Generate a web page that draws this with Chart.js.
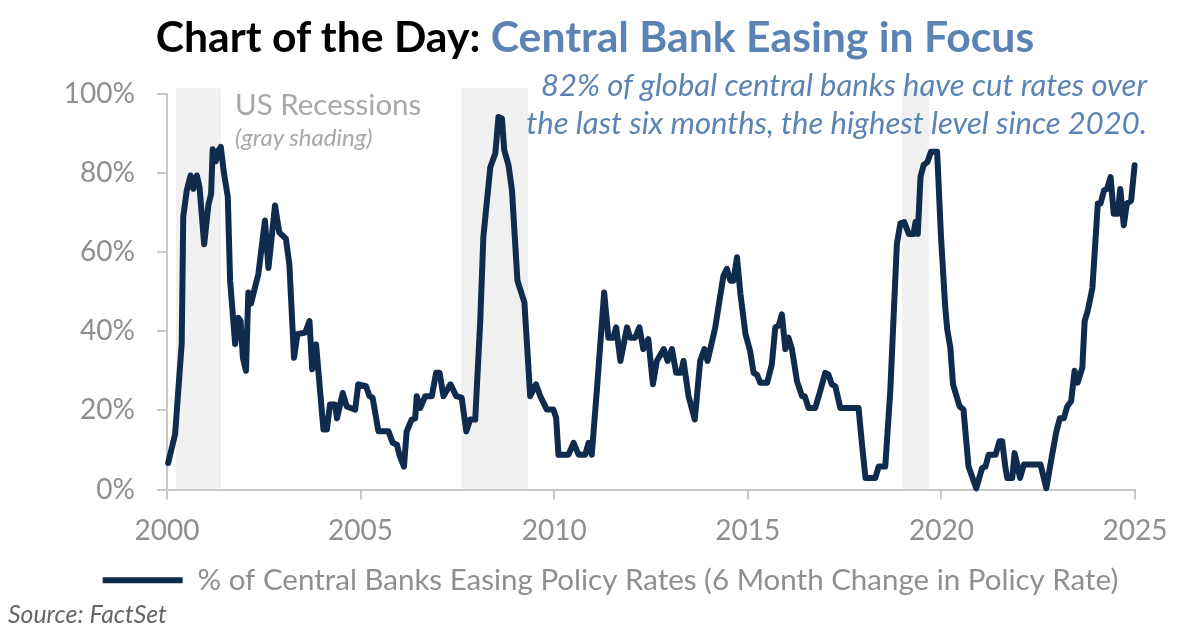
<!DOCTYPE html>
<html>
<head>
<meta charset="utf-8">
<script src="https://cdn.jsdelivr.net/npm/chart.js@4.4.1/dist/chart.umd.min.js"></script>
<style>
  body { margin: 0; background: #fff; }
  #wrap { position: relative; width: 1199px; height: 639px; overflow: hidden; font-family: Lato, "Noto Sans", sans-serif; }
  #myChart { position: absolute; left: 0; top: 0; }
  .txt { position: absolute; white-space: nowrap; }
  #title { left: 0; width: 1190px; top: 10px; text-align: center; font-weight: bold; font-size: 42.7px; color: #000; }
  #title span { color: #5b84b4; }
  #rec1 { left: 235px; top: 86px; font-size: 29.5px; color: #a8a8a8; }
  #rec2 { left: 235px; top: 122px; font-size: 24px; font-style: italic; color: #a8a8a8; }
  #note { right: 52px; top: 65px; text-align: right; font-size: 31px; font-style: italic; color: #5b84b4; line-height: 38px; }
  #source { left: 8px; top: 599px; font-size: 24.8px; font-style: italic; color: #666; }
</style>
</head>
<body>
<div id="wrap">
  <canvas id="myChart" width="1199" height="639"></canvas>
  <div class="txt" id="title">Chart of the Day: <span>Central Bank Easing in Focus</span></div>
  <div class="txt" id="rec1">US Recessions</div>
  <div class="txt" id="rec2">(gray shading)</div>
  <div class="txt" id="note">82% of global central banks have cut rates over<br>the last six months, the highest level since 2020.</div>
  <div class="txt" id="source">Source: FactSet</div>
</div>
<script>
// Date (ani zecimali) si procentul bancilor centrale care relaxeaza politica
var dates = [
  2000.03, 2000.21, 2000.38, 2000.42, 2000.51, 2000.61, 2000.68, 2000.77, 2000.84, 2000.96,
  2001.07, 2001.14, 2001.18, 2001.26, 2001.33, 2001.39, 2001.47, 2001.57, 2001.63, 2001.76,
  2001.84, 2001.90, 2001.96, 2002.04, 2002.10, 2002.17, 2002.27, 2002.36, 2002.53, 2002.62,
  2002.79, 2002.90, 2003.07, 2003.16, 2003.28, 2003.37, 2003.57, 2003.68, 2003.75, 2003.85,
  2004.04, 2004.13, 2004.21, 2004.34, 2004.39, 2004.54, 2004.64, 2004.86, 2004.94, 2005.14,
  2005.23, 2005.31, 2005.46, 2005.72, 2005.83, 2005.94, 2006.00, 2006.12, 2006.19, 2006.32,
  2006.41, 2006.45, 2006.54, 2006.67, 2006.84, 2006.95, 2007.04, 2007.14, 2007.32, 2007.47,
  2007.61, 2007.73, 2007.83, 2007.96, 2008.09, 2008.17, 2008.35, 2008.48, 2008.56, 2008.65,
  2008.71, 2008.82, 2008.91, 2009.05, 2009.23, 2009.38, 2009.53, 2009.64, 2009.81, 2009.98,
  2010.05, 2010.11, 2010.37, 2010.50, 2010.63, 2010.80, 2010.89, 2010.97, 2011.10, 2011.29,
  2011.40, 2011.53, 2011.60, 2011.71, 2011.88, 2011.96, 2012.09, 2012.20, 2012.30, 2012.43,
  2012.55, 2012.65, 2012.83, 2012.93, 2013.04, 2013.15, 2013.27, 2013.34, 2013.47, 2013.63,
  2013.77, 2013.88, 2013.96, 2014.16, 2014.24, 2014.37, 2014.46, 2014.55, 2014.63, 2014.72,
  2014.81, 2014.94, 2015.06, 2015.15, 2015.24, 2015.32, 2015.50, 2015.62, 2015.71, 2015.80,
  2015.88, 2015.97, 2016.05, 2016.14, 2016.27, 2016.40, 2016.47, 2016.57, 2016.74, 2016.87,
  2017.00, 2017.08, 2017.17, 2017.26, 2017.39, 2017.86, 2017.95, 2018.04, 2018.29, 2018.38,
  2018.55, 2018.68, 2018.85, 2018.94, 2019.04, 2019.16, 2019.28, 2019.33, 2019.39, 2019.46,
  2019.54, 2019.64, 2019.73, 2019.89, 2019.99, 2020.10, 2020.15, 2020.23, 2020.30, 2020.39,
  2020.47, 2020.57, 2020.70, 2020.90, 2021.05, 2021.14, 2021.22, 2021.40, 2021.50, 2021.57,
  2021.65, 2021.70, 2021.83, 2021.89, 2021.96, 2022.03, 2022.13, 2022.56, 2022.71, 2022.86,
  2022.97, 2023.06, 2023.16, 2023.25, 2023.35, 2023.44, 2023.52, 2023.64, 2023.70, 2023.78,
  2023.90, 2024.04, 2024.11, 2024.20, 2024.28, 2024.37, 2024.45, 2024.55, 2024.62, 2024.71,
  2024.79, 2024.90, 2024.99
];
var easing = [
  6.7, 14, 37, 69, 75.6, 79.4, 76, 79.4, 76.5, 62,
  72, 74.8, 86, 83, 85.8, 86.6, 80, 74, 52.8, 36.8,
  43.4, 42.6, 33.3, 30, 49.8, 47, 51, 54.5, 68, 56,
  71.8, 65, 63.4, 57, 33.3, 39.3, 39.7, 42.6, 30.4, 36.7,
  15.2, 15.2, 21.5, 21.5, 18, 24.4, 21, 20.2, 26.6, 26.1,
  23.6, 23.2, 14.7, 14.7, 11.8, 11.3, 8.8, 5.8, 14.7, 17.7,
  18, 23.6, 20.6, 23.6, 23.6, 29.5, 29.5, 23.6, 26.6, 23.6,
  23.2, 14.7, 17.7, 17.7, 42.6, 63.8, 81.5, 85, 94.2, 93.8,
  85.8, 82, 75.6, 52.8, 47.3, 23.6, 26.6, 23.6, 20.2, 20.2,
  18.1, 8.8, 8.8, 11.8, 8.8, 8.8, 11.8, 8.8, 24.9, 49.8,
  38.4, 38.4, 41, 32.5, 41, 38.4, 38.4, 41, 35.5, 38,
  26.6, 32.5, 35.5, 32.5, 35.5, 29.5, 29.5, 32.5, 23.6, 17.7,
  32.5, 35.5, 32.5, 41, 46, 54, 55.8, 52.8, 52.8, 58.7,
  49.4, 39.3, 35, 29.5, 29, 27, 27, 31.6, 41, 41.5,
  44.3, 35.5, 38.4, 35.5, 27.4, 23.6, 23.6, 20.6, 20.6, 24.9,
  29.5, 29.1, 26.6, 26.1, 20.6, 20.6, 11.3, 2.9, 2.9, 5.8,
  5.8, 24.9, 62.1, 67.3, 67.6, 64.6, 64.6, 67.6, 64.6, 79,
  82, 82.8, 85.4, 85.4, 63.8, 46, 40.5, 35.9, 26.6, 23.6,
  21, 20.2, 5.8, 0.3, 5.4, 5.8, 8.8, 8.8, 12.2, 12.2,
  5.8, 2.9, 2.9, 9.2, 6.3, 2.9, 6.3, 6.3, 0.3, 8.8,
  14.7, 18, 18, 21, 22.3, 30, 27, 30.8, 42.6, 45.2,
  51, 72.3, 72.3, 75.6, 76, 79, 69.7, 69.7, 76, 66.8,
  72.3, 73, 82
];

// Recesiuni SUA (zonele gri), asa cum apar in grafic
var recessionStart = [2000.23, 2007.60, 2018.98];
var recessionEnd   = [2001.39, 2009.33, 2019.69];

var xTicks = [2000, 2005, 2010, 2015, 2020, 2025];
var yTicks = [0, 20, 40, 60, 80, 100];

var navy = '#0f2b4d';
var axisGray = '#c9c9c9';
var labelGray = '#8f8f8f';

var points = dates.map(function (d, i) { return { x: d, y: easing[i] }; });

var shading = {
    id: 'shading',
    beforeDatasetsDraw: function (chart) {
        var c = chart.ctx, xs = chart.scales.x, ys = chart.scales.y;
        c.save();
        c.fillStyle = '#f0f0f0';
        var top = ys.getPixelForValue(101.5), bottom = ys.getPixelForValue(0);
        for (var i = 0; i < recessionStart.length; i++) {
            var x1 = xs.getPixelForValue(recessionStart[i]);
            var x2 = xs.getPixelForValue(recessionEnd[i]);
            c.fillRect(x1, top, x2 - x1, bottom - top - 1);
        }
        c.restore();
    }
};

// Legenda e putin mutata spre dreapta, ca in original
var legendShift = {
    id: 'legendShift',
    afterLayout: function (chart) {
        chart.legend.left += 28;
        chart.legend.right += 28;
    }
};

var ctx = document.getElementById('myChart').getContext('2d');

var myChart = new Chart(ctx, {
    type: 'line',
    data: {
        datasets: [{
            label: '% of Central Banks Easing Policy Rates (6 Month Change in Policy Rate)',
            data: points,
            borderColor: navy,
            backgroundColor: navy,
            borderWidth: 6,
            borderJoinStyle: 'round',
            borderCapStyle: 'round',
            pointRadius: 0,
            tension: 0,
            clip: false
        }]
    },
    options: {
        responsive: false,
        animation: false,
        devicePixelRatio: 1,
        layout: { padding: { top: 94, right: 64, bottom: 34, left: 30 } },
        plugins: {
            tooltip: { enabled: false },
            legend: {
                position: 'bottom',
                labels: {
                    color: labelGray,
                    font: { family: 'Lato', size: 29.5 },
                    usePointStyle: true,
                    pointStyle: 'line',
                    pointStyleWidth: 80,
                    boxHeight: 6,
                    padding: 10
                }
            }
        },
        scales: {
            x: {
                type: 'linear',
                min: 2000,
                max: 2025,
                afterBuildTicks: function (axis) {
                    axis.ticks = xTicks.map(function (v) { return { value: v }; });
                },
                afterFit: function (axis) { axis.height = 66; },
                border: { color: axisGray, width: 2 },
                grid: { drawOnChartArea: false, drawTicks: true, tickLength: 10, color: axisGray, lineWidth: 2 },
                ticks: {
                    color: labelGray,
                    font: { family: 'Lato', size: 28 },
                    padding: 15,
                    maxRotation: 0,
                    callback: function (v) { return String(v); }
                }
            },
            y: {
                min: 0,
                max: 100,
                afterBuildTicks: function (axis) {
                    axis.ticks = yTicks.map(function (v) { return { value: v }; });
                },
                afterFit: function (axis) { axis.width = 137; },
                border: { color: axisGray, width: 2 },
                grid: { drawOnChartArea: false, drawTicks: true, tickLength: 10, color: axisGray, lineWidth: 2 },
                ticks: {
                    color: labelGray,
                    font: { family: 'Lato', size: 28 },
                    padding: 22,
                    callback: function (v) { return v + '%'; }
                }
            }
        }
    },
    plugins: [shading, legendShift]
});
</script>
</body>
</html>
